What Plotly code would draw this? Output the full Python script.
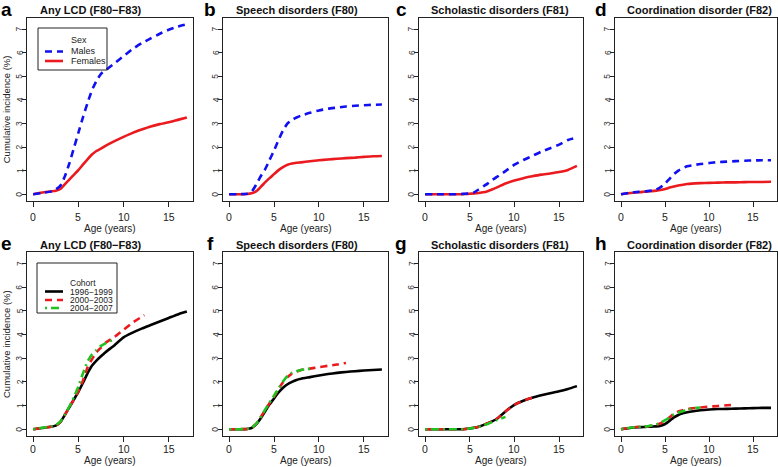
import plotly.graph_objects as go

W, H = 778, 467

# ---------------- data ----------------
AGE = [0, 1, 2, 2.5, 3, 3.5, 4, 4.5, 5, 5.5, 6, 6.5, 7, 7.5, 8, 9, 10, 11, 12, 13, 14, 15, 16, 17]

# Sex panels (a-d)
a_males = [0, 0.05, 0.12, 0.2, 0.35, 0.75, 1.3, 1.95, 2.6, 3.25, 3.85, 4.4, 4.8, 5.1, 5.25, 5.55, 5.85, 6.15, 6.4, 6.6, 6.8, 6.97, 7.1, 7.2]
a_females = [0, 0.07, 0.12, 0.15, 0.22, 0.42, 0.62, 0.82, 1.02, 1.25, 1.47, 1.68, 1.83, 1.93, 2.05, 2.25, 2.43, 2.6, 2.74, 2.87, 2.97, 3.05, 3.15, 3.25]
b_males = [0, 0, 0.02, 0.1, 0.4, 0.75, 1.05, 1.45, 1.85, 2.3, 2.7, 3.0, 3.15, 3.25, 3.33, 3.45, 3.55, 3.62, 3.67, 3.72, 3.75, 3.77, 3.79, 3.8]
b_females = [0, 0, 0.01, 0.04, 0.12, 0.3, 0.5, 0.68, 0.85, 1.02, 1.15, 1.25, 1.3, 1.33, 1.35, 1.4, 1.44, 1.47, 1.5, 1.53, 1.55, 1.58, 1.61, 1.62]
c_males = [0, 0, 0, 0, 0, 0, 0.01, 0.02, 0.03, 0.08, 0.2, 0.33, 0.45, 0.6, 0.72, 0.98, 1.25, 1.45, 1.62, 1.8, 1.95, 2.1, 2.3, 2.4]
c_females = [0, 0, 0, 0, 0, 0, 0, 0.01, 0.02, 0.03, 0.05, 0.08, 0.13, 0.2, 0.28, 0.45, 0.58, 0.68, 0.76, 0.83, 0.88, 0.94, 1.03, 1.2]
d_males = [0, 0.06, 0.1, 0.11, 0.13, 0.16, 0.2, 0.3, 0.45, 0.65, 0.85, 1.0, 1.1, 1.18, 1.22, 1.28, 1.32, 1.36, 1.38, 1.4, 1.42, 1.43, 1.44, 1.44]
d_females = [0, 0.05, 0.08, 0.1, 0.12, 0.13, 0.15, 0.18, 0.22, 0.28, 0.33, 0.37, 0.4, 0.43, 0.45, 0.47, 0.48, 0.49, 0.5, 0.5, 0.51, 0.52, 0.52, 0.53]

# Cohort panels (e-h)
e_1996 = [0, 0.05, 0.1, 0.15, 0.3, 0.6, 0.92, 1.25, 1.58, 1.95, 2.35, 2.68, 2.9, 3.08, 3.25, 3.55, 3.88, 4.08, 4.25, 4.4, 4.55, 4.7, 4.85, 4.97]
f_1996 = [0, 0, 0.01, 0.05, 0.2, 0.45, 0.75, 1.05, 1.3, 1.55, 1.75, 1.9, 2.0, 2.08, 2.13, 2.2, 2.27, 2.33, 2.38, 2.42, 2.45, 2.48, 2.5, 2.52]
g_1996 = [0, 0, 0, 0, 0, 0, 0, 0.01, 0.03, 0.06, 0.1, 0.17, 0.25, 0.33, 0.43, 0.75, 1.03, 1.2, 1.33, 1.43, 1.52, 1.6, 1.7, 1.82]
h_1996 = [0, 0.05, 0.08, 0.09, 0.1, 0.11, 0.12, 0.15, 0.22, 0.35, 0.5, 0.6, 0.67, 0.72, 0.75, 0.8, 0.83, 0.85, 0.86, 0.87, 0.88, 0.89, 0.9, 0.9]

AGE_2000_E = [0, 1, 2, 2.5, 3, 3.5, 4, 4.5, 5, 5.5, 6, 6.5, 7, 7.5, 8, 9, 10, 11, 12, 12.3]
AGE_2000_F = [0, 1, 2, 2.5, 3, 3.5, 4, 4.5, 5, 5.5, 6, 6.5, 7, 7.5, 8, 9, 10, 11, 12, 13]
AGE_2000_G = [0, 1, 2, 2.5, 3, 3.5, 4, 4.5, 5, 5.5, 6, 6.5, 7, 7.5, 8, 9, 10, 11, 12, 12.5]
AGE_2000_H = [0, 1, 2, 2.5, 3, 3.5, 4, 4.5, 5, 5.5, 6, 6.5, 7, 7.5, 8, 9, 10, 11, 12, 13]
e_2000 = [0, 0.05, 0.1, 0.15, 0.3, 0.6, 0.92, 1.25, 1.6, 2.05, 2.6, 2.95, 3.25, 3.45, 3.65, 3.9, 4.2, 4.5, 4.75, 4.82]
f_2000 = [0, 0, 0.01, 0.06, 0.22, 0.5, 0.8, 1.1, 1.38, 1.7, 1.98, 2.2, 2.35, 2.43, 2.5, 2.56, 2.62, 2.68, 2.73, 2.8]
g_2000 = [0, 0, 0, 0, 0, 0, 0, 0.01, 0.03, 0.06, 0.1, 0.17, 0.25, 0.33, 0.43, 0.75, 1.03, 1.2, 1.33, 1.36]
h_2000 = [0, 0.06, 0.1, 0.11, 0.12, 0.15, 0.18, 0.25, 0.35, 0.5, 0.65, 0.75, 0.8, 0.84, 0.88, 0.92, 0.95, 0.98, 1.01, 1.04]

AGE_2004 = [0, 1, 2, 2.5, 3, 3.5, 4, 4.5, 5, 5.5, 6, 6.5, 7, 7.5, 8, 8.5, 9]
e_2004 = [0, 0.06, 0.12, 0.17, 0.32, 0.62, 0.95, 1.35, 1.8, 2.35, 2.85, 3.15, 3.35, 3.52, 3.63, 3.72, 3.78]
f_2004 = [0, 0, 0.01, 0.06, 0.22, 0.5, 0.82, 1.12, 1.42, 1.72, 2.02, 2.25, 2.38, 2.45, 2.5, 2.53, 2.55]
g_2004 = [0, 0, 0, 0, 0, 0, 0, 0.01, 0.03, 0.06, 0.1, 0.16, 0.22, 0.3, 0.38, 0.45, 0.52]
h_2004 = [0, 0.06, 0.1, 0.11, 0.12, 0.16, 0.2, 0.28, 0.38, 0.5, 0.62, 0.7, 0.76, 0.82, 0.87, 0.9, 0.92]

PANEL_LETTERS = ["a", "b", "c", "d", "e", "f", "g", "h"]
PANEL_TITLES = ["Any LCD (F80\u2212F83)", "Speech disorders (F80)", "Scholastic disorders (F81)", "Coordination disorder (F82)"] * 2
X_TICKS = [0, 5, 10, 15]
Y_TICKS = [0, 1, 2, 3, 4, 5, 6, 7]
SEX_LABELS = ["Males", "Females"]
COHORT_LABELS = ["1996\u22121999", "2000\u22122003", "2004\u22122007"]

# ---------------- style ----------------
FONT = "Liberation Sans, Arial, Helvetica, sans-serif"
BLUE = "#1010f0"
RED = "#ea1a1f"
GREEN = "#1fc21f"
BLACK = "#000000"
LW = 2.6
DASH = "7px,5px"
DOTDASH = "2px,4px,8px,4px"

# panel boxes in pixels: (left, right) and (top, bottom)
COLS = [(27, 193), (223, 388), (419, 583), (615, 777)]
ROWS = [(17.5, 201), (252, 436)]
XLABEL_Y = [217.5, 449]
XTITLE_Y = [228.5, 460]


def xp(px):
    return px / W


def yp(py):
    return 1 - py / H


fig = go.Figure()

sex_sets = [(a_males, a_females), (b_males, b_females), (c_males, c_females), (d_males, d_females)]
coh_sets = [
    (e_1996, AGE_2000_E, e_2000, e_2004),
    (f_1996, AGE_2000_F, f_2000, f_2004),
    (g_1996, AGE_2000_G, g_2000, g_2004),
    (h_1996, AGE_2000_H, h_2000, h_2004),
]

SMOOTH = 0.5
for i in range(4):
    ax = str(i + 1)
    m, f = sex_sets[i]
    fig.add_trace(go.Scatter(x=AGE, y=f, mode="lines", line=dict(color=RED, width=LW, shape="spline", smoothing=SMOOTH),
                             xaxis="x" + ax, yaxis="y" + ax, showlegend=False, name=SEX_LABELS[1]))
    fig.add_trace(go.Scatter(x=AGE, y=m, mode="lines", line=dict(color=BLUE, width=LW, dash=DASH, shape="spline", smoothing=SMOOTH),
                             xaxis="x" + ax, yaxis="y" + ax, showlegend=False, name=SEX_LABELS[0]))

for i in range(4):
    ax = str(i + 5)
    k, ager, r, g = coh_sets[i]
    fig.add_trace(go.Scatter(x=AGE, y=k, mode="lines", line=dict(color=BLACK, width=LW, shape="spline", smoothing=SMOOTH),
                             xaxis="x" + ax, yaxis="y" + ax, showlegend=False, name=COHORT_LABELS[0]))
    fig.add_trace(go.Scatter(x=ager, y=r, mode="lines", line=dict(color=RED, width=LW, dash=DASH, shape="spline", smoothing=SMOOTH),
                             xaxis="x" + ax, yaxis="y" + ax, showlegend=False, name=COHORT_LABELS[1]))
    fig.add_trace(go.Scatter(x=AGE_2004, y=g, mode="lines", line=dict(color=GREEN, width=LW, dash=DOTDASH, shape="spline", smoothing=SMOOTH),
                             xaxis="x" + ax, yaxis="y" + ax, showlegend=False, name=COHORT_LABELS[2]))

layout = dict(
    width=W, height=H, margin=dict(l=0, r=0, t=0, b=0),
    paper_bgcolor="white", plot_bgcolor="white",
    font=dict(family=FONT, color="#111"),
    showlegend=False,
)

annotations = []
shapes = []

for idx in range(8):
    r, c = divmod(idx, 4)
    n = str(idx + 1)
    (xl, xr), (yt, yb) = COLS[c], ROWS[r]
    layout["xaxis" + n] = dict(
        domain=[xp(xl), xp(xr)], range=[-0.68, 17.68], anchor="y" + n,
        tickmode="array", tickvals=X_TICKS, ticks="outside", ticklen=5, tickwidth=1, tickcolor="#222",
        showline=True, mirror=True, linecolor="#222", linewidth=1,
        showgrid=False, zeroline=False, showticklabels=False,
    )
    layout["yaxis" + n] = dict(
        domain=[yp(yb), yp(yt)], range=[-0.288, 7.488], anchor="x" + n,
        tickmode="array", tickvals=Y_TICKS, ticks="outside", ticklen=4, tickwidth=1, tickcolor="#222",
        showline=True, mirror=True, linecolor="#222", linewidth=1,
        showgrid=False, zeroline=False, showticklabels=False,
    )
    # tick labels placed via the axes' own data coordinates
    for v in X_TICKS:
        annotations.append(dict(text=str(v), x=v, xref="x" + n, y=yp(XLABEL_Y[r]), yref="paper",
                                xanchor="center", yanchor="middle", showarrow=False, borderpad=0,
                                font=dict(size=10.5, color="#222")))
    for v in Y_TICKS:
        annotations.append(dict(text=str(v), y=v, yref="y" + n, x=xp(xl - 7.5), xref="paper",
                                xanchor="center", yanchor="middle", textangle=-90, showarrow=False,
                                font=dict(size=8.5, color="#333")))
    annotations.append(dict(text="Age (years)", x=xp((xl + xr) / 2), y=yp(XTITLE_Y[r]), xref="paper", yref="paper",
                            xanchor="center", yanchor="middle", showarrow=False, borderpad=0,
                            font=dict(size=10, color="#222")))

title_cx = [90, 297, 500, 699]
letter_cx = [6, 210, 401, 601]
row_ty = [10, 245]
for idx in range(8):
    r, c = divmod(idx, 4)
    annotations.append(dict(text="<b>" + PANEL_TITLES[idx] + "</b>", x=xp(title_cx[c]), y=yp(row_ty[r]),
                            xref="paper", yref="paper", xanchor="center", yanchor="middle", showarrow=False,
                            font=dict(size=11, color="#111")))
    annotations.append(dict(text="<b>" + PANEL_LETTERS[idx] + "</b>", x=xp(letter_cx[c]), y=yp(row_ty[r] - 1),
                            xref="paper", yref="paper", xanchor="center", yanchor="middle", showarrow=False,
                            font=dict(size=19, color="#000")))

for r in range(2):
    yt, yb = ROWS[r]
    annotations.append(dict(text="Cumulative incidence (%)", x=xp(6), y=yp((yt + yb) / 2), xref="paper", yref="paper",
                            xanchor="center", yanchor="middle", textangle=-90, showarrow=False,
                            font=dict(size=9.5, color="#222")))

# legend panel a
shapes.append(dict(type="rect", xref="paper", yref="paper", x0=xp(38), x1=xp(107), y0=yp(70), y1=yp(28),
                   line=dict(color="#222", width=1), fillcolor="rgba(0,0,0,0)"))
annotations.append(dict(text="Sex", x=xp(69), y=yp(40), xref="paper", yref="paper", xanchor="left", yanchor="middle",
                        showarrow=False, font=dict(size=9, color="#222")))
for lbl, ypix, col, dsh in [(SEX_LABELS[0], 51.5, BLUE, DASH), (SEX_LABELS[1], 61, RED, None)]:
    annotations.append(dict(text=lbl, x=xp(69), y=yp(ypix), xref="paper", yref="paper", xanchor="left",
                            yanchor="middle", showarrow=False, font=dict(size=9, color="#222")))
    ln = dict(color=col, width=LW)
    if dsh:
        ln["dash"] = dsh
    shapes.append(dict(type="line", xref="paper", yref="paper", x0=xp(45), x1=xp(63), y0=yp(ypix), y1=yp(ypix), line=ln))

# legend panel e
shapes.append(dict(type="rect", xref="paper", yref="paper", x0=xp(37), x1=xp(117), y0=yp(313), y1=yp(263),
                   line=dict(color="#222", width=1), fillcolor="rgba(0,0,0,0)"))
annotations.append(dict(text="Cohort", x=xp(69), y=yp(283), xref="paper", yref="paper", xanchor="left", yanchor="middle",
                        showarrow=False, borderpad=0, font=dict(size=8.5, color="#222")))
for lbl, ypix, col, dsh in [(COHORT_LABELS[0], 291.5, BLACK, None), (COHORT_LABELS[1], 300, RED, DASH),
                            (COHORT_LABELS[2], 308, GREEN, DOTDASH)]:
    annotations.append(dict(text=lbl, x=xp(69), y=yp(ypix), xref="paper", yref="paper", xanchor="left",
                            yanchor="middle", showarrow=False, borderpad=0, font=dict(size=8.5, color="#222")))
    ln = dict(color=col, width=LW)
    if dsh:
        ln["dash"] = dsh
    shapes.append(dict(type="line", xref="paper", yref="paper", x0=xp(45), x1=xp(63), y0=yp(ypix), y1=yp(ypix), line=ln))

layout["annotations"] = annotations
layout["shapes"] = shapes
fig.update_layout(**layout)
fig.write_html("out.html", config={"displayModeBar": False})

# remove the browser's default page margin so the 778x467 figure fills the window exactly
with open("out.html", "r", encoding="utf-8") as fh:
    html = fh.read()
html = html.replace("<head>", "<head><style>html,body{margin:0;padding:0;overflow:hidden;}</style>", 1)
with open("out.html", "w", encoding="utf-8") as fh:
    fh.write(html)
